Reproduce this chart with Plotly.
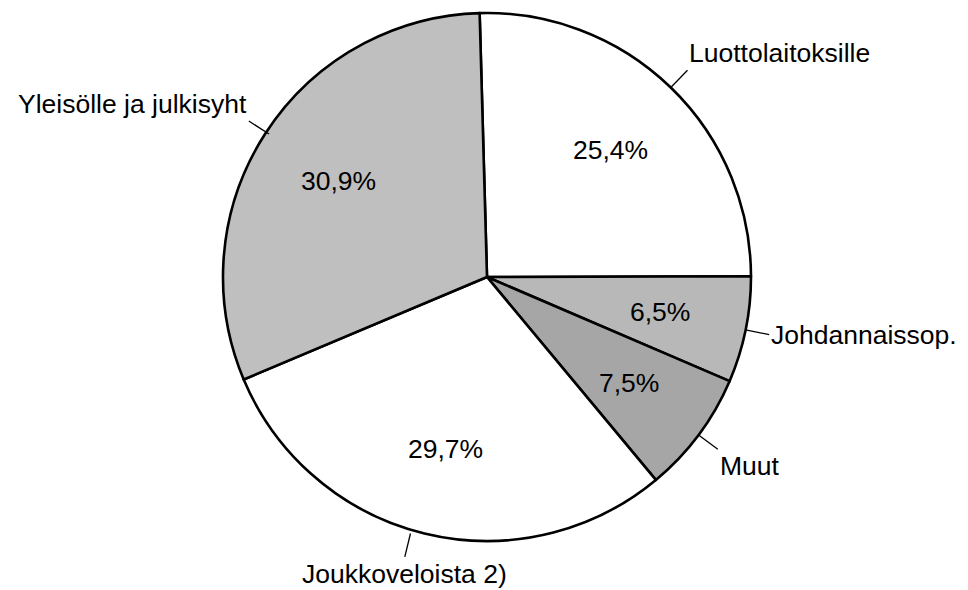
import math
import plotly.graph_objects as go

# ---- data ----
labels = ["Luottolaitoksille", "Johdannaissop.", "Muut", "Joukkoveloista 2)", "Yleisölle ja julkisyht"]
values = [25.4, 6.5, 7.5, 29.7, 30.9]
value_text = ["25,4%", "6,5%", "7,5%", "29,7%", "30,9%"]

# ---- styling / layout ----
colors = ["#ffffff", "#b8b8b8", "#a6a6a6", "#ffffff", "#bfbfbf"]
W, H = 968, 590
CX, CY, R = 487, 277, 264          # pie centre and radius in pixels
ROT = -1.6                          # slight rotation of the scanned chart
FONT = "Liberation Sans, Arial, Helvetica, sans-serif"
FS = 26.5
label_anchor = {
    "Luottolaitoksille": ("left", "bottom", 0, 0),
    "Johdannaissop.": ("left", "middle", 0, 0),
    "Muut": ("left", "top", 0, 0),
    "Joukkoveloista 2)": ("center", "top", -14, 0),
    "Yleisölle ja julkisyht": ("right", "bottom", 4, 0),
}
LEADER = 24
TEXT_R = 0.67

fig = go.Figure()
fig.add_trace(go.Pie(
    labels=labels,
    values=values,
    sort=False,
    direction="clockwise",
    rotation=ROT,
    marker=dict(colors=colors, line=dict(color="black", width=2.6)),
    textinfo="none",
    hoverinfo="label+percent",
    showlegend=False,
    domain=dict(x=[(CX - R) / W, (CX + R) / W], y=[1 - (CY + R) / H, 1 - (CY - R) / H]),
))

total = sum(values)
cum = 0.0
annotations = []
for lab, v, txt in zip(labels, values, value_text):
    mid = (cum + v / 2) / total * 360 + ROT
    cum += v
    th = math.radians(mid)
    s, c = math.sin(th), math.cos(th)
    # percentage inside
    px = CX + TEXT_R * R * s
    py = CY - TEXT_R * R * c
    annotations.append(dict(
        x=px / W, y=1 - py / H, xref="paper", yref="paper",
        text=txt, showarrow=False, xanchor="center", yanchor="middle",
        font=dict(family=FONT, size=FS, color="black"),
    ))
    # outside label with leader
    ax_, ay_ = LEADER * s, -LEADER * c
    xa, ya, xs, ys = label_anchor[lab]
    annotations.append(dict(
        x=(CX + R * s) / W, y=1 - (CY - R * c) / H, xref="paper", yref="paper",
        ax=ax_, ay=ay_, axref="pixel", ayref="pixel",
        text=lab, showarrow=True, arrowhead=0, arrowwidth=1.3, arrowcolor="black",
        standoff=0, startstandoff=0,
        xanchor=xa, yanchor=ya, xshift=xs, yshift=ys,
        font=dict(family=FONT, size=FS, color="black"),
    ))

fig.update_layout(
    width=W, height=H,
    margin=dict(l=0, r=0, t=0, b=0),
    paper_bgcolor="white", plot_bgcolor="white",
    annotations=annotations,
)

fig.write_html(
    "out.html",
    config={"displayModeBar": False},
    post_script="document.body.style.margin='0px';",
)
